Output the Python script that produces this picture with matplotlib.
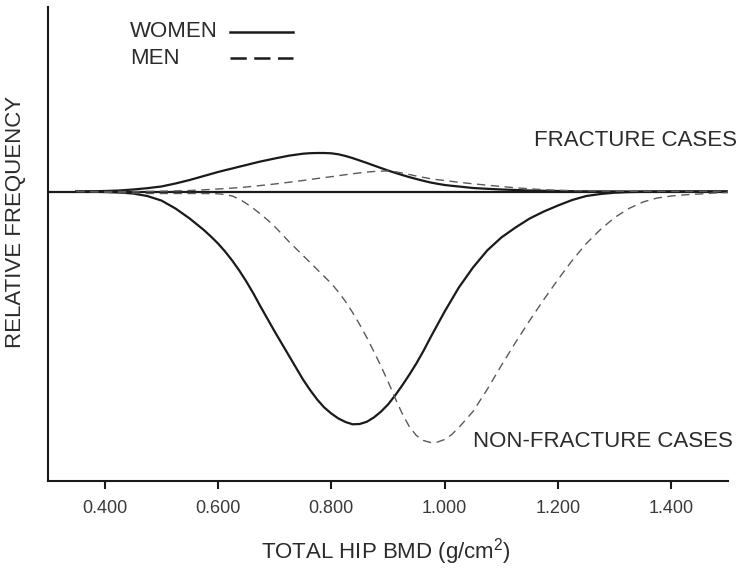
import matplotlib
matplotlib.use('Agg')
import matplotlib.pyplot as plt
from matplotlib.lines import Line2D

# ------------------------------------------------------------
# DATA  (relative frequency, arbitrary units)
# finer steps where the curves bend the most
# ------------------------------------------------------------
bmd = [0.350, 0.375, 0.400, 0.425, 0.450, 0.475, 0.500, 0.525, 0.550,
       0.575, 0.5875, 0.600, 0.6125, 0.625, 0.6375, 0.650, 0.6625, 0.675, 0.6875, 0.700,
       0.725,
       0.750, 0.7625, 0.775, 0.7875, 0.800, 0.8125, 0.825, 0.8375, 0.850, 0.8625,
       0.875, 0.8875, 0.900, 0.9125, 0.925, 0.9375, 0.950, 0.9625, 0.975, 0.9875,
       1.000, 1.0125, 1.025,
       1.050, 1.075, 1.100, 1.125, 1.150, 1.175, 1.200, 1.225, 1.250, 1.275,
       1.300, 1.325, 1.350, 1.375, 1.400, 1.425, 1.450, 1.475, 1.500]

women_fracture = [0, 0.2, 0.5, 1, 2, 3.3, 5, 8, 11.5,
                  15.5, 17.5, 19.5, 21.3, 23, 24.8, 26.5, 28.3, 30, 31.5, 33,
                  35.8,
                  37.8, 38.3, 38.5, 38.5, 38.2, 37.2, 35.5, 33.4, 31, 28.6,
                  26, 23.5, 21, 18.7, 16.5, 14.4, 12.5, 10.7, 9, 7.7,
                  6.5, 5.7, 5,
                  3.5, 2.7, 2, 1.5, 1, 0.7, 0.5, 0.3, 0.2, 0.1,
                  0.1, 0, 0, 0, 0, 0, 0, 0, 0]

men_fracture = [0, 0, 0, 0, 0, 0.1, 0.3, 0.6, 1,
                1.7, 2.1, 2.5, 2.9, 3.4, 3.9, 4.5, 5.2, 6, 6.7, 7.5,
                9.2,
                11, 12, 13, 13.9, 14.8, 15.8, 16.8, 17.7, 18.6, 19.4,
                20, 20.4, 20.5, 19.8, 18.5, 17, 15.5, 14.1, 12.8, 11.8,
                11, 10.1, 9.2,
                7.7, 6.3, 5, 3.7, 2.7, 1.8, 1.2, 0.9, 0.6, 0.4,
                0.3, 0.2, 0.2, 0.1, 0.1, 0, 0, 0, 0]

women_nonfracture = [0, -0.2, -0.5, -1, -2, -4.5, -9, -17, -27,
                     -38.5, -45, -52, -60, -69, -79, -90, -102, -115, -127.5, -140,
                     -164,
                     -188, -198.5, -208, -216, -222, -227, -230.5, -232.8, -232.5, -230.3,
                     -226, -220.2, -213, -204, -194, -183.3, -172, -159.5, -146, -133,
                     -120, -108, -96,
                     -76, -59, -46, -36, -27, -20, -14, -8.5, -4.5, -2.5,
                     -1.2, -0.6, -0.3, -0.1, 0, 0, 0, 0, 0]

men_nonfracture = [0, -0.3, -0.7, -1.2, -1.6, -2, -2, -2, -2,
                   -2, -2.1, -2.3, -3, -4.5, -7.5, -12, -17, -22.5, -28.5, -35,
                   -50,
                   -64, -71, -78, -85, -92, -100.5, -110, -121, -133, -146,
                   -160, -174.5, -190, -206.5, -222, -235, -244, -249, -251, -250.5,
                   -248, -243, -236,
                   -220, -198, -174, -151, -129, -108, -88, -69, -52, -38,
                   -26, -17, -10.5, -6.5, -4.5, -3.3, -2.5, -1.5, -1]

xticks = [0.4, 0.6, 0.8, 1.0, 1.2, 1.4]

# ------------------------------------------------------------
# STYLE
# ------------------------------------------------------------
INK = '#1a1a1a'
TEXT = '#2b2b2b'
DASH_GRAY = '#5a5a5a'

plt.rcParams.update({
    'font.family': ['Liberation Sans', 'DejaVu Sans'],
    'mathtext.fontset': 'custom',
    'mathtext.rm': 'Liberation Sans',
    'mathtext.default': 'regular',
    'axes.linewidth': 1.5,
    'xtick.major.width': 1.5,
    'xtick.major.size': 6,
    'xtick.labelsize': 13,
    'xtick.color': INK,
    'xtick.labelcolor': '#3a3a3a',
    'lines.solid_joinstyle': 'round',
    'lines.dash_joinstyle': 'round',
})

W, H = 745, 573
fig = plt.figure(figsize=(W / 100, H / 100), dpi=100)
# axes box: left spine at x=48px, right end 728px, top 7px, bottom 481px
ax = fig.add_axes([48 / W, 1 - 481 / H, 680 / W, 474 / H])

ax.axhline(0, color=INK, lw=1.6, zorder=2)
ax.plot(bmd, women_fracture, color=INK, lw=1.6, zorder=3)
ax.plot(bmd, women_nonfracture, color=INK, lw=1.6, zorder=3)
ax.plot(bmd, men_fracture, color=DASH_GRAY, lw=1.0, ls=(0, (6, 4)), zorder=4)
ax.plot(bmd, men_nonfracture, color=DASH_GRAY, lw=1.0, ls=(0, (6, 4)), zorder=4)

ax.set_xlim(0.3, 1.5)
ax.set_ylim(-289.5, 184.5)
ax.set_xticks(xticks)
ax.set_xticklabels([f'{v:.3f}' for v in xticks])
ax.tick_params(axis='x', direction='out', pad=8)
ax.set_yticks([])
for side in ('top', 'right'):
    ax.spines[side].set_visible(False)
for side in ('left', 'bottom'):
    ax.spines[side].set_color(INK)

ax.set_xlabel('TOTAL HIP BMD (g/cm$^2$)', fontsize=16, color=TEXT, va='center')
ax.xaxis.set_label_coords(0.497, -(551.7 - 481) / 474)
ax.set_ylabel('RELATIVE FREQUENCY', fontsize=16, color=TEXT, va='center')
ax.yaxis.set_label_coords((15 - 48) / 680, (481 - 222) / 474)

# annotations
fig.text(737 / W, 1 - 140 / H, 'FRACTURE CASES', fontsize=16, color=TEXT,
         ha='right', va='center')
fig.text(733 / W, 1 - 441.7 / H, 'NON-FRACTURE CASES', fontsize=16, color=TEXT,
         ha='right', va='center')

# hand-made legend: label on the left, line sample on the right
fig.text(130 / W, 1 - 31.7 / H, 'WOMEN', fontsize=16, color=TEXT, va='center')
fig.text(130 / W, 1 - 58 / H, 'MEN', fontsize=16, color=TEXT, va='center')
fig.lines.append(Line2D([230 / W, 293 / W], [1 - 31.7 / H] * 2,
                        transform=fig.transFigure, color=INK, lw=1.8))
fig.lines.append(Line2D([230 / W, 293 / W], [1 - 58 / H] * 2,
                        transform=fig.transFigure, color=INK, lw=1.8,
                        ls=(0, (6.5, 3))))

fig.savefig('out.png', dpi=100, facecolor='white')
